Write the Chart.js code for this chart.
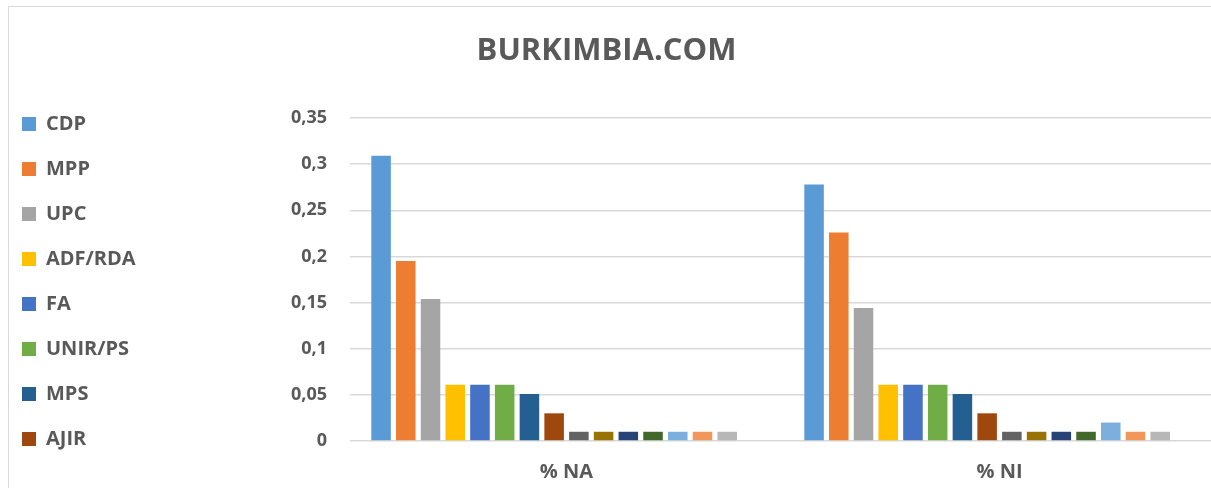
<!DOCTYPE html>
<html>
<head>
<meta charset="utf-8">
<script src="https://cdn.jsdelivr.net/npm/chart.js@4"></script>
<style>
  html, body { margin: 0; padding: 0; background: #ffffff; overflow: hidden; width: 1211px; height: 488px; }
  #frame { position: absolute; left: 8px; top: 6px; width: 1400px; height: 700px; border: 1.5px solid #d9d9d9; box-sizing: border-box; pointer-events: none; }
  #c { position: absolute; left: 0; top: 0; }
</style>
</head>
<body>
<div id="frame"></div>
<canvas id="c" width="1216" height="503"></canvas>
<script>
const chartTitle = 'BURKIMBIA.COM';
const categories = ['% NA', '% NI'];
const seriesNames = ['CDP', 'MPP', 'UPC', 'ADF/RDA', 'FA', 'UNIR/PS', 'MPS', 'AJIR',
  'Série 9', 'Série 10', 'Série 11', 'Série 12', 'Série 13', 'Série 14', 'Série 15', 'Série 16'];
const valuesNA = [0.309, 0.195, 0.154, 0.061, 0.061, 0.061, 0.051, 0.030, 0.01, 0.01, 0.01, 0.01, 0.01, 0.01, 0.01, 0];
const valuesNI = [0.278, 0.226, 0.144, 0.061, 0.061, 0.061, 0.051, 0.030, 0.01, 0.01, 0.01, 0.01, 0.02, 0.01, 0.01, 0];
const seriesColors = ['#5B9BD5', '#ED7D31', '#A5A5A5', '#FFC000', '#4472C4', '#70AD47', '#255E91', '#9E480E',
  '#636363', '#997300', '#264478', '#43682B', '#7CAFDD', '#F1975A', '#B7B7B7', '#FFCD33'];
const yTickLabels = ['0', '0,05', '0,1', '0,15', '0,2', '0,25', '0,3', '0,35'];
const legendVisibleCount = 8;

const textColor = '#595959';
const fontFamily = '"Open Sans", "Noto Sans", sans-serif';
const padLeft = -3;

const datasets = seriesNames.map((name, i) => ({
  label: name,
  data: [valuesNA[i], valuesNI[i]],
  backgroundColor: seriesColors[i],
  borderWidth: 0,
  categoryPercentage: 0.9136,
  barPercentage: 0.79
}));

new Chart(document.getElementById('c'), {
  type: 'bar',
  data: { labels: categories, datasets: datasets },
  options: {
    responsive: false,
    animation: false,
    devicePixelRatio: 1,
    layout: { padding: { left: padLeft, right: 0, top: 0, bottom: 0 } },
    plugins: {
      title: {
        display: true,
        text: chartTitle,
        color: textColor,
        font: { family: fontFamily, size: 31, weight: 'bold' },
        padding: { top: 32.4, bottom: 48.4 }
      },
      legend: {
        display: true,
        position: 'left',
        align: 'start',
        title: { display: true, text: '', font: { size: 12 }, padding: { top: 74.6, bottom: 0 } },
        labels: {
          boxWidth: 14,
          boxHeight: 14,
          padding: 25,
          color: textColor,
          font: { family: fontFamily, size: 20, weight: 'bold' },
          filter: (item) => item.datasetIndex < legendVisibleCount
        }
      },
      tooltip: { enabled: false }
    },
    scales: {
      x: {
        grid: { display: false, drawTicks: false },
        border: { display: false },
        ticks: {
          color: textColor,
          padding: 19,
          font: { family: fontFamily, size: 20, weight: 'bold' }
        }
      },
      y: {
        min: 0,
        max: 0.35,
        afterFit: (s) => { s.width = 350 - padLeft - s.chart.legend.width; },
        grid: { color: '#d9d9d9', lineWidth: 1.5, drawTicks: false },
        border: { display: false },
        ticks: {
          stepSize: 0.05,
          padding: 23,
          color: textColor,
          font: { family: fontFamily, size: 18, weight: 'bold' },
          callback: (v, i) => yTickLabels[i]
        }
      }
    }
  }
});
</script>
</body>
</html>
